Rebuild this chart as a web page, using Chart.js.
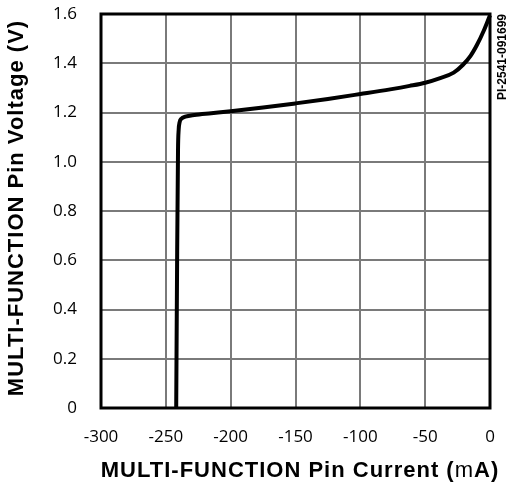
<!DOCTYPE html>
<html>
<head>
<meta charset="utf-8">
<script src="https://cdn.jsdelivr.net/npm/chart.js@4"></script>
<style>
  html, body { margin: 0; background: #fff; }
  #wrap { width: 508px; height: 494px; }
</style>
</head>
<body>
<div id="wrap"><canvas id="myChart"></canvas></div>
<script>
// dati
var currentMA = [-242, -241.3, -240.6, -240.1, -239.4, -238, -235, -228, -215, -200, -175, -150, -125, -100, -77, -62, -50, -39, -28, -21, -15, -10, -5, 0];
var voltageV  = [0, 0.6, 1.05, 1.13, 1.16, 1.175, 1.183, 1.19, 1.197, 1.205, 1.22, 1.237, 1.255, 1.275, 1.294, 1.308, 1.321, 1.339, 1.362, 1.393, 1.43, 1.475, 1.53, 1.595];
var xTicks = [-300, -250, -200, -150, -100, -50, 0];
var yTicks = [0, 0.2, 0.4, 0.6, 0.8, 1.0, 1.2, 1.4, 1.6];

var points = currentMA.map(function (c, i) { return { x: c, y: voltageV[i] }; });

var tickFont = { family: 'Open Sans', size: 17 };

function noPad(s) { s.paddingTop = 0; s.paddingBottom = 0; s.paddingLeft = 0; s.paddingRight = 0; }

// scrive un titolo a pezzi (la "m" non in grassetto)
function drawParts(c, parts, cx, cy) {
  var total = 0;
  c.letterSpacing = '1px';
  parts.forEach(function (p) { c.font = p[0]; total += c.measureText(p[1]).width; });
  var x = cx - total / 2;
  parts.forEach(function (p) { c.font = p[0]; c.fillText(p[1], x, cy); x += c.measureText(p[1]).width; });
  c.letterSpacing = '0px';
}

var B = 'bold 22px "Liberation Sans"', R = '22px "Liberation Sans"';

var extras = {
  id: 'extras',
  afterDraw: function (chart) {
    var c = chart.ctx, a = chart.chartArea;
    c.save();
    c.strokeStyle = '#000';
    c.lineWidth = 3;
    c.strokeRect(a.left, a.top, a.right - a.left, a.bottom - a.top);

    c.fillStyle = '#000';
    c.textBaseline = 'middle';
    c.textAlign = 'left';
    drawParts(c, [[B, 'MULTI-FUNCTION Pin Current ('], [R, 'm'], [B, 'A)']], 300, 471);

    c.save();
    c.translate(17, 208);
    c.rotate(-Math.PI / 2);
    drawParts(c, [[B, 'MULTI-FUNCTION Pin Voltage (V)']], 0, 0);
    c.restore();

    c.translate(503, 57);
    c.rotate(-Math.PI / 2);
    c.font = 'bold 12px "Liberation Sans"';
    c.textAlign = 'center';
    c.fillText('PI-2541-091699', 0, 0);
    c.restore();
  }
};

var ctx = document.getElementById('myChart').getContext('2d');
var myChart = new Chart(ctx, {
  type: 'scatter',
  data: {
    datasets: [{
      data: points,
      showLine: true,
      borderColor: '#000',
      borderWidth: 4,
      pointRadius: 0,
      cubicInterpolationMode: 'monotone',
      clip: 4
    }]
  },
  options: {
    responsive: true,
    maintainAspectRatio: false,
    animation: false,
    layout: { padding: { left: 0, right: 18, top: 14, bottom: 0 } },
    plugins: { legend: { display: false }, tooltip: { enabled: false } },
    scales: {
      x: {
        type: 'linear',
        min: -300, max: 0,
        afterBuildTicks: function (s) { s.ticks = xTicks.map(function (v) { return { value: v }; }); },
        afterFit: function (s) { s.height = 86; noPad(s); },
        grid: { color: '#7a7a7a', lineWidth: 2, drawTicks: false },
        border: { display: false },
        ticks: { color: '#000', font: tickFont, padding: 19, maxRotation: 0, autoSkip: false,
                 callback: function (v) { return String(v); } }
      },
      y: {
        type: 'linear',
        min: 0, max: 1.6,
        afterBuildTicks: function (s) { s.ticks = yTicks.map(function (v) { return { value: v }; }); },
        afterFit: function (s) { s.width = 101; noPad(s); },
        grid: { color: '#7a7a7a', lineWidth: 2, drawTicks: false },
        border: { display: false },
        ticks: { color: '#000', font: tickFont, padding: 24, autoSkip: false,
                 callback: function (v) { return v === 0 ? '0' : v.toFixed(1); } }
      }
    }
  },
  plugins: [extras]
});
</script>
</body>
</html>
